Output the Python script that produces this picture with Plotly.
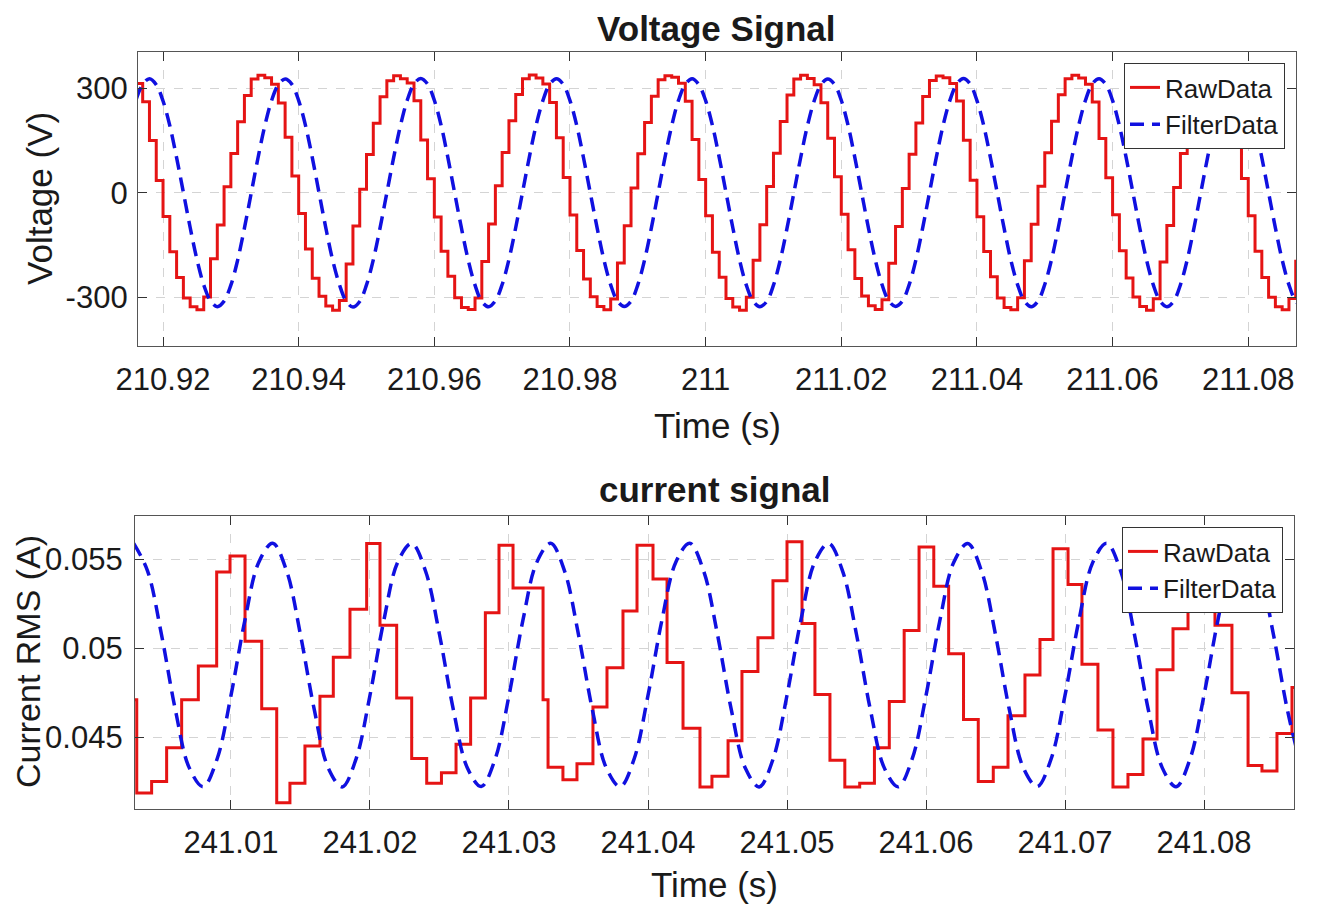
import plotly.graph_objects as go

# ---------------- data ----------------
# Voltage: samples every 1 ms starting at 210.916 s
v_t0 = 210.916
v_dt = 0.001
v_raw = [
    314, 262, 150, 35, -68, -170, -244, -303, -328, -337, -300, -190, -93, 17, 113, 204, 280, 327, 338, 331,
    312, 258, 160, 48, -60, -162, -246, -298, -326, -338, -310, -205, -96, 10, 110, 200, 276, 322, 337, 328,
    316, 265, 152, 40, -70, -168, -240, -302, -330, -336, -303, -198, -90, 20, 116, 207, 283, 328, 339, 330,
    313, 260, 158, 44, -64, -166, -248, -299, -327, -337, -306, -202, -95, 14, 112, 202, 278, 325, 337, 332,
    315, 263, 153, 38, -66, -171, -243, -304, -329, -338, -301, -194, -92, 18, 114, 205, 281, 327, 338, 329,
    311, 259, 157, 46, -62, -164, -247, -297, -325, -336, -308, -203, -97, 12, 111, 201, 277, 323, 336, 331,
    314, 264, 151, 36, -69, -169, -242, -303, -330, -337, -302, -196, -91, 19, 115, 206, 282, 328, 338, 330,
    312, 261, 156, 43, -63, -167, -245, -300, -327, -338, -305, -199, -94, 15, 113, 203, 279, 326, 337, 331,
    313, 262, 154, 41, -66, -168, -244, -301, -328, -337, -304, -197, -93,
]
v_filt = [
    266, 312, 328, 311, 264, 193, 101, 1, -100, -192, -265, -311, -328, -312, -266, -194, -102, -1, 100, 192,
    265, 311, 327, 312, 265, 194, 102, 0, -101, -193, -264, -312, -329, -313, -265, -193, -101, 0, 101, 193,
    266, 313, 329, 313, 266, 194, 101, -1, -102, -194, -266, -313, -328, -311, -264, -192, -100, 1, 102, 194,
    265, 312, 328, 312, 265, 193, 100, -1, -101, -193, -265, -312, -327, -312, -265, -193, -101, 0, 101, 193,
    266, 312, 328, 311, 265, 194, 102, 1, -100, -193, -266, -312, -328, -313, -266, -194, -102, -1, 100, 192,
    264, 311, 327, 312, 266, 194, 101, 0, -101, -192, -264, -311, -327, -312, -265, -193, -101, 0, 101, 193,
    265, 312, 329, 313, 265, 193, 100, -1, -102, -194, -265, -312, -328, -312, -264, -192, -100, 1, 102, 194,
    266, 313, 328, 312, 265, 193, 101, 0, -101, -193, -265, -312, -328, -312, -265, -193, -101, 0, 101, 193,
    265, 312, 328, 312, 265, 193, 101, 0, -101, -193, -265, -312, -328,
]

# Current raw: step start times and held values
i_raw_t = [
    241.00273, 241.00322, 241.00429, 241.00537, 241.00645, 241.00765, 241.00897, 241.00993,
    241.01101, 241.01221, 241.01329, 241.01424, 241.01532, 241.01640, 241.01736, 241.01856,
    241.01976, 241.02072, 241.02192, 241.02300, 241.02408, 241.02514, 241.02619, 241.02724,
    241.02830, 241.02928, 241.03029, 241.03245, 241.03281, 241.03388, 241.03489, 241.03604,
    241.03705, 241.03820, 241.03921, 241.04036, 241.04137, 241.04252, 241.04374, 241.04460,
    241.04576, 241.04676, 241.04791, 241.04899, 241.05000, 241.05108, 241.05201, 241.05309,
    241.05416, 241.05523, 241.05629, 241.05736, 241.05843, 241.05950, 241.06056, 241.06163,
    241.06270, 241.06376, 241.06484, 241.06590, 241.06712, 241.06820, 241.06914, 241.07022,
    241.07122, 241.07237, 241.07345, 241.07453, 241.07561, 241.07662, 241.07777, 241.07885,
    241.07993, 241.08079, 241.08201, 241.08317, 241.08417, 241.08525, 241.08633, 241.08700,
]
i_raw = [
    0.0471, 0.04185, 0.0425, 0.0444, 0.0471, 0.0490, 0.0543, 0.0552,
    0.0504, 0.0466, 0.0413, 0.0424, 0.0445, 0.0473, 0.0495, 0.0522,
    0.0559, 0.0513, 0.0472, 0.0438, 0.0424, 0.0430, 0.0446, 0.0472,
    0.0520, 0.0558, 0.0534, 0.0471, 0.0433, 0.0426, 0.0435, 0.0467,
    0.0489, 0.0521, 0.0558, 0.0539, 0.0492, 0.0455, 0.0422, 0.0428,
    0.0448, 0.0487, 0.0506, 0.0538, 0.0560, 0.0514, 0.0474, 0.0437,
    0.0422, 0.0424, 0.0444, 0.0470, 0.0510, 0.0557, 0.0535, 0.0497,
    0.0460, 0.0425, 0.0433, 0.0462, 0.0485, 0.0505, 0.0556, 0.0536,
    0.0491, 0.0454, 0.0422, 0.0429, 0.0449, 0.0488, 0.0511, 0.0557,
    0.0538, 0.0513, 0.0475, 0.0434, 0.0431, 0.0452, 0.0478, 0.0478,
]
# Current filtered: samples every 1 ms starting at 241.003 s
i_t0 = 241.003
i_dt = 0.001
i_filt = [
    0.05591, 0.05435, 0.05077, 0.04653, 0.04327, 0.04221, 0.04377, 0.04735, 0.05158, 0.05485,
    0.05592, 0.05436, 0.05076, 0.04652, 0.04326, 0.04220, 0.04378, 0.04736, 0.05159, 0.05486,
    0.05590, 0.05434, 0.05078, 0.04654, 0.04328, 0.04222, 0.04376, 0.04734, 0.05157, 0.05484,
    0.05591, 0.05435, 0.05077, 0.04653, 0.04327, 0.04221, 0.04377, 0.04735, 0.05158, 0.05485,
    0.05592, 0.05436, 0.05077, 0.04652, 0.04326, 0.04220, 0.04377, 0.04736, 0.05159, 0.05486,
    0.05591, 0.05435, 0.05078, 0.04654, 0.04327, 0.04221, 0.04376, 0.04734, 0.05158, 0.05485,
    0.05590, 0.05434, 0.05077, 0.04653, 0.04328, 0.04222, 0.04377, 0.04735, 0.05157, 0.05484,
    0.05591, 0.05436, 0.05077, 0.04652, 0.04327, 0.04221, 0.04378, 0.04736, 0.05158, 0.05485,
    0.05592, 0.05435, 0.05076, 0.04653, 0.04326,
]

v_xticks = [210.92, 210.94, 210.96, 210.98, 211.0, 211.02, 211.04, 211.06, 211.08]
v_xlabels = ["210.92", "210.94", "210.96", "210.98", "211", "211.02", "211.04", "211.06", "211.08"]
v_yticks = [-300, 0, 300]
v_ylabels = ["-300", "0", "300"]
i_xticks = [241.01, 241.02, 241.03, 241.04, 241.05, 241.06, 241.07, 241.08]
i_xlabels = ["241.01", "241.02", "241.03", "241.04", "241.05", "241.06", "241.07", "241.08"]
i_yticks = [0.045, 0.05, 0.055]
i_ylabels = ["0.045", "0.05", "0.055"]

# ---------------- figure ----------------
# the page places the figure 8 px from the top-left corner
OFF = 8
W, H = 1321 - OFF, 905 - OFF
RED = "#e51414"
BLUE = "#1010e0"
FONT = "Liberation Sans, Arial, sans-serif"


def px(x):
    return (x - OFF) / W


def py(y):
    return 1 - (y - OFF) / H


fig = go.Figure()
fig.add_trace(go.Scatter(x0=v_t0, dx=v_dt, y=v_raw, mode="lines", name="RawData",
                         line=dict(color=RED, width=3, shape="hv"),
                         xaxis="x", yaxis="y", legend="legend"))
fig.add_trace(go.Scatter(x0=v_t0, dx=v_dt, y=v_filt, mode="lines", name="FilterData",
                         line=dict(color=BLUE, width=3.5, dash="14px,8px", shape="spline"),
                         xaxis="x", yaxis="y", legend="legend"))
fig.add_trace(go.Scatter(x=i_raw_t, y=i_raw, mode="lines", name="RawData",
                         line=dict(color=RED, width=3, shape="hv"),
                         xaxis="x2", yaxis="y2", legend="legend2"))
fig.add_trace(go.Scatter(x0=i_t0, dx=i_dt, y=i_filt, mode="lines", name="FilterData",
                         line=dict(color=BLUE, width=3.5, dash="14px,8px", shape="spline"),
                         xaxis="x2", yaxis="y2", legend="legend2"))

axis_common = dict(
    ticks="inside", ticklen=9, tickwidth=1.2, tickcolor="#333333",
    showline=True, linecolor="#555555", linewidth=1.3, mirror="ticks",
    showgrid=True, gridcolor="#d4d4d4", griddash="dash", gridwidth=1,
    zeroline=False, tickfont=dict(family=FONT, size=31, color="#1a1a1a"),
    tickmode="array", automargin=False,
)

fig.update_layout(
    width=W, height=H, autosize=False,
    margin=dict(l=0, r=0, t=0, b=0, pad=0, autoexpand=False),
    paper_bgcolor="white", plot_bgcolor="white",
    font=dict(family=FONT, color="#1a1a1a"),
    xaxis=dict(domain=[px(138), px(1296)], range=[210.91631, 211.08704], anchor="y",
               tickvals=v_xticks, ticktext=v_xlabels, ticklabelstandoff=6, **axis_common),
    yaxis=dict(domain=[py(346), py(52)], range=[-441, 405], anchor="x",
               tickvals=v_yticks, ticktext=v_ylabels, ticklabelstandoff=3, **axis_common),
    xaxis2=dict(domain=[px(135), px(1294)], range=[241.003094, 241.086475], anchor="y2",
                tickvals=i_xticks, ticktext=i_xlabels, ticklabelstandoff=6, **axis_common),
    yaxis2=dict(domain=[py(809), py(516)], range=[0.040955, 0.05745], anchor="x2",
                tickvals=i_yticks, ticktext=i_ylabels, ticklabelstandoff=5, **axis_common),
    legend=dict(x=px(1285), xanchor="right", y=py(63), yanchor="top",
                bgcolor="white", bordercolor="#333333", borderwidth=1,
                font=dict(family=FONT, size=26, color="#1a1a1a"), tracegroupgap=0),
    legend2=dict(x=px(1283), xanchor="right", y=py(527), yanchor="top",
                 bgcolor="white", bordercolor="#333333", borderwidth=1,
                 font=dict(family=FONT, size=26, color="#1a1a1a"), tracegroupgap=0),
    showlegend=True,
)


def ann(text, xpx, ypx, size, angle=0, xanchor="center"):
    fig.add_annotation(text=text, x=px(xpx), y=py(ypx), xref="paper", yref="paper",
                       xanchor=xanchor, yanchor="middle", showarrow=False, textangle=angle,
                       borderpad=0, font=dict(family=FONT, size=size, color="#1a1a1a"))


ann("<b>Voltage Signal</b>", 716, 28, 35)
ann("Time (s)", 717, 425, 35)
ann("Voltage (V)", 39, 199, 35, -90)
ann("<b>current signal</b>", 714, 489, 35)
ann("Time (s)", 714, 884, 35)
ann("Current RMS (A)", OFF, 662, 34, -90, xanchor="left")

fig.write_html("out.html")
